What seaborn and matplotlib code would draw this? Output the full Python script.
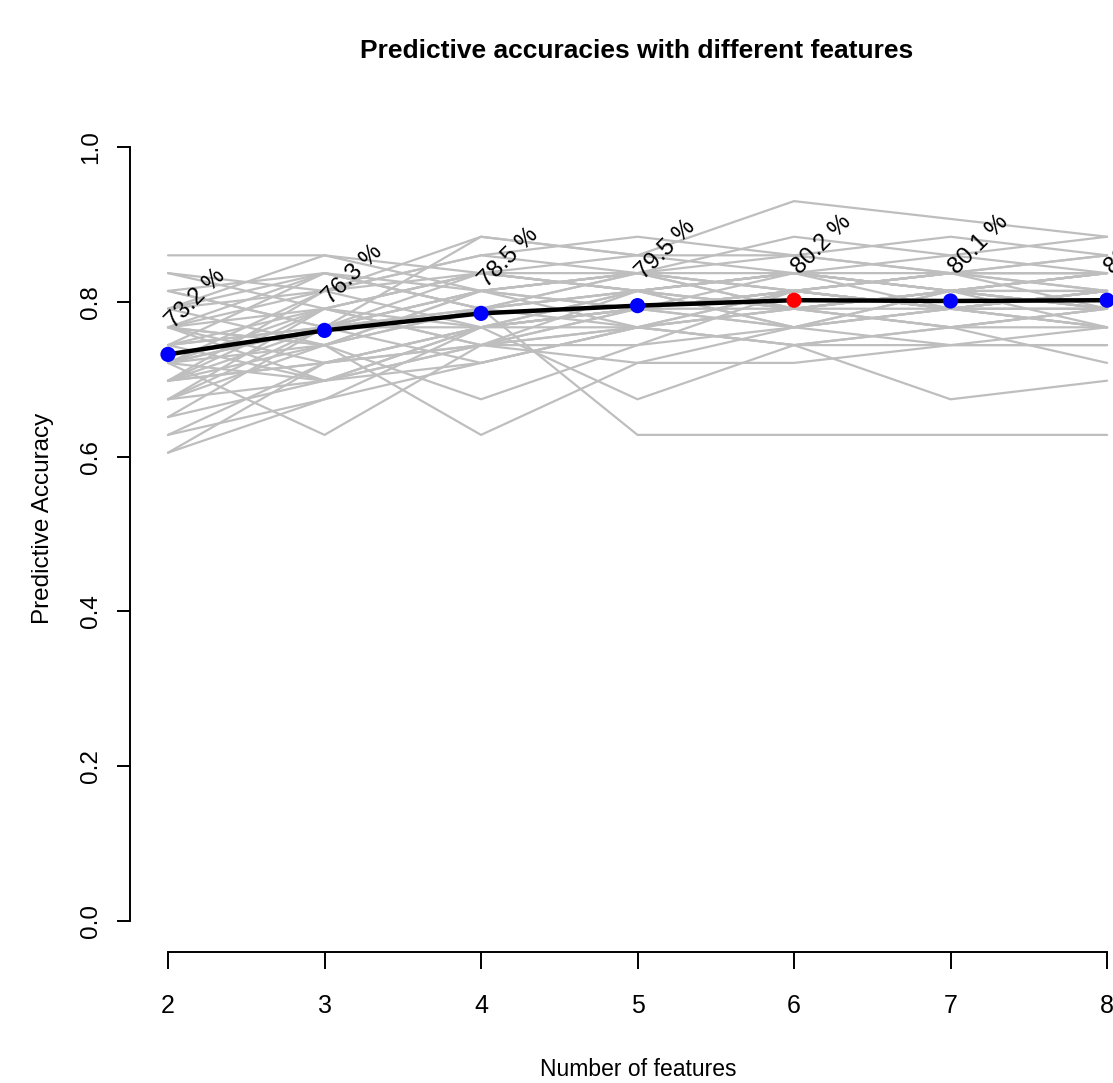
import numpy as np
import pandas as pd
import matplotlib
matplotlib.use("Agg")
import matplotlib.pyplot as plt
import matplotlib.font_manager as fm
import seaborn as sns

# ---------------- data ----------------
n_features = [2, 3, 4, 5, 6, 7, 8]

# individual runs (grey lines), accuracy at each number of features
runs = [
    [0.860, 0.860, 0.837, 0.814, 0.837, 0.814, 0.814],
    [0.837, 0.814, 0.884, 0.860, 0.860, 0.837, 0.837],
    [0.814, 0.767, 0.791, 0.837, 0.884, 0.860, 0.884],
    [0.791, 0.837, 0.814, 0.791, 0.814, 0.837, 0.814],
    [0.767, 0.744, 0.814, 0.837, 0.860, 0.884, 0.860],
    [0.744, 0.791, 0.767, 0.814, 0.837, 0.814, 0.837],
    [0.721, 0.767, 0.837, 0.837, 0.814, 0.837, 0.837],
    [0.698, 0.791, 0.744, 0.767, 0.791, 0.791, 0.814],
    [0.674, 0.744, 0.791, 0.814, 0.791, 0.814, 0.791],
    [0.651, 0.698, 0.767, 0.791, 0.837, 0.814, 0.814],
    [0.628, 0.721, 0.744, 0.814, 0.767, 0.791, 0.767],
    [0.605, 0.674, 0.721, 0.767, 0.744, 0.767, 0.791],
    [0.791, 0.814, 0.860, 0.884, 0.860, 0.837, 0.860],
    [0.767, 0.721, 0.744, 0.791, 0.814, 0.791, 0.791],
    [0.767, 0.791, 0.837, 0.814, 0.837, 0.860, 0.837],
    [0.744, 0.837, 0.791, 0.837, 0.837, 0.814, 0.837],
    [0.744, 0.698, 0.767, 0.791, 0.791, 0.767, 0.767],
    [0.744, 0.767, 0.814, 0.791, 0.767, 0.791, 0.814],
    [0.721, 0.814, 0.767, 0.791, 0.814, 0.837, 0.814],
    [0.721, 0.628, 0.744, 0.767, 0.791, 0.767, 0.791],
    [0.721, 0.744, 0.791, 0.814, 0.837, 0.837, 0.837],
    [0.721, 0.791, 0.837, 0.860, 0.930, 0.907, 0.884],
    [0.698, 0.744, 0.628, 0.721, 0.721, 0.744, 0.744],
    [0.698, 0.721, 0.767, 0.674, 0.744, 0.767, 0.721],
    [0.674, 0.698, 0.721, 0.767, 0.744, 0.674, 0.698],
    [0.674, 0.767, 0.791, 0.628, 0.628, 0.628, 0.628],
    [0.721, 0.698, 0.744, 0.744, 0.767, 0.744, 0.744],
    [0.791, 0.860, 0.814, 0.837, 0.814, 0.837, 0.860],
    [0.767, 0.814, 0.860, 0.837, 0.791, 0.814, 0.791],
    [0.698, 0.767, 0.767, 0.767, 0.744, 0.744, 0.767],
    [0.837, 0.791, 0.837, 0.814, 0.837, 0.814, 0.767],
    [0.605, 0.721, 0.767, 0.791, 0.814, 0.837, 0.791],
    [0.814, 0.837, 0.791, 0.767, 0.814, 0.791, 0.814],
    [0.651, 0.767, 0.814, 0.837, 0.791, 0.814, 0.837],
    [0.767, 0.698, 0.744, 0.791, 0.767, 0.791, 0.814],
    [0.698, 0.814, 0.837, 0.814, 0.791, 0.767, 0.791],
    [0.744, 0.767, 0.721, 0.767, 0.814, 0.791, 0.814],
    [0.628, 0.674, 0.767, 0.814, 0.791, 0.814, 0.837],
    [0.791, 0.744, 0.814, 0.837, 0.814, 0.791, 0.767],
    [0.674, 0.791, 0.744, 0.721, 0.767, 0.814, 0.791],
    [0.721, 0.767, 0.884, 0.860, 0.837, 0.791, 0.814],
    [0.767, 0.837, 0.791, 0.814, 0.767, 0.814, 0.837],
    [0.698, 0.721, 0.767, 0.791, 0.814, 0.791, 0.767],
    [0.814, 0.767, 0.814, 0.767, 0.791, 0.814, 0.791],
    [0.767, 0.744, 0.674, 0.744, 0.814, 0.791, 0.791],
]

# mean predictive accuracy per number of features
mean_acc = [0.732, 0.763, 0.785, 0.795, 0.802, 0.801, 0.802]
mean_labels = ["73.2 %", "76.3 %", "78.5 %", "79.5 %", "80.2 %", "80.1 %", "80.2 %"]

y_ticks = [0.0, 0.2, 0.4, 0.6, 0.8, 1.0]
y_tick_labels = ["0.0", "0.2", "0.4", "0.6", "0.8", "1.0"]

title = "Predictive accuracies with different features"
x_label = "Number of features"
y_label = "Predictive Accuracy"

# ---------------- style ----------------
sns.set_style("ticks")
names = {f.name for f in fm.fontManager.ttflist}
regular = "Liberation Sans" if "Liberation Sans" in names else "DejaVu Sans"
narrow = "Liberation Sans Narrow" if "Liberation Sans Narrow" in names else regular
plt.rcParams["font.family"] = [regular, "DejaVu Sans"]
plt.rcParams["text.color"] = "black"
plt.rcParams["axes.labelcolor"] = "black"
plt.rcParams["xtick.color"] = "black"
plt.rcParams["ytick.color"] = "black"

long = pd.DataFrame(
    [(r, x, v) for r, row in enumerate(runs) for x, v in zip(n_features, row)],
    columns=["run", "features", "accuracy"],
)
mean_df = pd.DataFrame({"features": n_features, "accuracy": mean_acc})
best = int(np.argmax(mean_acc))
mean_df["best"] = ["best" if i == best else "other" for i in range(len(mean_acc))]

fig = plt.figure(figsize=(11.13, 10.83), dpi=100)
ax = fig.add_axes([0.1172, 0.1210, 0.9112, 0.7719])

sns.lineplot(data=long, x="features", y="accuracy", units="run", estimator=None,
             color="#BEBEBE", linewidth=1.6, ax=ax, legend=False)
sns.lineplot(data=mean_df, x="features", y="accuracy", color="black",
             linewidth=3.2, ax=ax, legend=False)
sns.scatterplot(data=mean_df, x="features", y="accuracy", hue="best",
                palette={"best": "#FF0000", "other": "#0000FF"}, s=120,
                edgecolor="none", ax=ax, legend=False, zorder=5)

for x, v, lab in zip(n_features, mean_acc, mean_labels):
    ax.text(x + 0.04, v + 0.033, lab, rotation=45, rotation_mode="anchor",
            ha="left", va="baseline", fontsize=17, family=[regular],
            color="black", clip_on=False)

ax.set_xlim(1.76, 8.24)
ax.set_ylim(-0.04, 1.04)
for s in ["top", "right"]:
    ax.spines[s].set_visible(False)
ax.spines["left"].set_bounds(0, 1)
ax.spines["bottom"].set_bounds(2, 8)
for s in ["left", "bottom"]:
    ax.spines[s].set_linewidth(1.4)
    ax.spines[s].set_color("black")

ax.set_xticks(n_features)
ax.set_xticklabels([str(n) for n in n_features], fontsize=18, family=[narrow])
ax.set_yticks(y_ticks)
ax.set_yticklabels(y_tick_labels, rotation=90, va="center", fontsize=17.5)
ax.tick_params(axis="x", direction="out", length=12, width=1.4, pad=18,
               colors="black", bottom=True)
ax.tick_params(axis="y", direction="out", length=9.5, width=1.4, pad=11,
               colors="black", left=True)

ax.set_xlabel("")
ax.set_ylabel("")
fig.text(638 / 1113, 1 - 1070 / 1083, x_label, ha="center", va="center",
         fontsize=16.5, family=[narrow], color="black")
fig.text(43 / 1113, 1 - 518 / 1083, y_label, ha="center", va="center",
         rotation=90, fontsize=17.5, color="black")
fig.text(637 / 1113, 1 - 51 / 1083, title, ha="center", va="center",
         fontsize=19, fontweight="bold", family=[narrow], color="black")

fig.savefig("out.png", dpi=100, facecolor="white")
